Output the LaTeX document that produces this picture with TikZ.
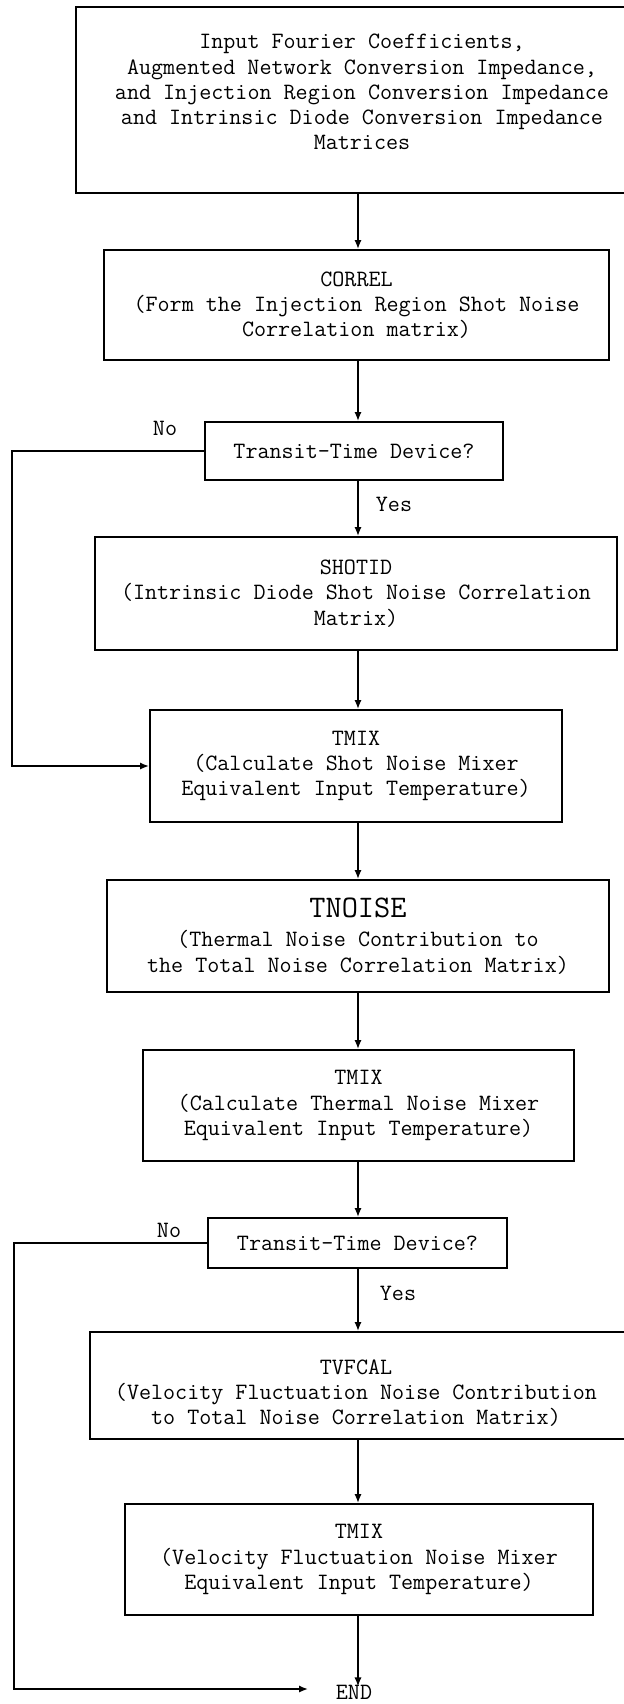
\documentclass[tikz,border=0pt]{standalone}
\usetikzlibrary{arrows.meta}
\begin{document}
\begin{tikzpicture}[x=0.5pt,y=-0.5pt,
  every node/.style={font=\ttfamily\fontsize{11.7}{12.6}\selectfont},
  box/.style 2 args={draw, line width=1pt, minimum width=#1*0.5pt,
    minimum height=#2*0.5pt, inner sep=0pt, align=center},
  txt/.style={align=center, inner sep=0pt},
  arr/.style={line width=0.8pt, -{Latex[length=4.5pt,width=3.6pt]}},
  wire/.style={line width=0.8pt}]
\useasboundingbox (0,0) rectangle (624,1704);

% spine of the main flow
\coordinate (sp) at (358,0);

% process boxes
\node[box={564}{186}] (inbox) at (358,100) {};
\node[txt] (intext) at (362,92) {Input Fourier Coefficients,\\Augmented Network Conversion Impedance,\\and Injection Region Conversion Impedance\\and Intrinsic Diode Conversion Impedance\\Matrices};
\node[box={505}{110}] (correl) at (356.5,305) {CORREL\\(Form the Injection Region Shot Noise\\Correlation matrix)};
\node[box={298}{58}] (dec1) at (354,451) {Transit-Time Device?};
\node[box={522}{113}] (shotid) at (356,593.5) {SHOTID\\(Intrinsic Diode Shot Noise Correlation\\Matrix)};
\node[box={412}{112}] (tmixa) at (356,766) {TMIX\\(Calculate Shot Noise Mixer\\Equivalent Input Temperature)};
\node[box={502}{112}] (tnoise) at (358,936) {{\fontsize{15.7}{17}\selectfont TNOISE}\\[2pt](Thermal Noise Contribution to\\the Total Noise Correlation Matrix)};
\node[box={431}{111}] (tmixb) at (358.5,1105.5) {TMIX\\(Calculate Thermal Noise Mixer\\Equivalent Input Temperature)};
\node[box={299}{50}] (dec2) at (357.5,1243) {Transit-Time Device?};
\node[box={550}{107}] (tvfcal) at (365,1385.5) {};
\node[txt] (tvtext) at (356,1393) {TVFCAL\\(Velocity Fluctuation Noise Contribution\\to Total Noise Correlation Matrix)};
\node[box={468}{111}] (tmixc) at (359,1559.5) {TMIX\\(Velocity Fluctuation Noise Mixer\\Equivalent Input Temperature)};
\node[txt] (endn) at (354,1692) {END};

% branch labels
\node[txt] (no1) at (165,428) {No};
\node[txt] (yes1) at (394,504) {Yes};
\node[txt] (no2) at (169,1230) {No};
\node[txt] (yes2) at (398,1293) {Yes};

% main flow
\draw[arr] (inbox.south -| sp) -- (correl.north -| sp);
\draw[arr] (correl.south -| sp) -- (dec1.north -| sp);
\draw[arr] (dec1.south -| sp) -- (shotid.north -| sp);
\draw[arr] (shotid.south -| sp) -- (tmixa.north -| sp);
\draw[arr] (tmixa.south -| sp) -- (tnoise.north -| sp);
\draw[arr] (tnoise.south -| sp) -- (tmixb.north -| sp);
\draw[arr] (tmixb.south -| sp) -- (dec2.north -| sp);
\draw[arr] (dec2.south -| sp) -- (tvfcal.north -| sp);
\draw[arr] (tvfcal.south -| sp) -- (tmixc.north -| sp);
\draw[arr] (tmixc.south -| sp) -- ([yshift=-1pt]endn.north -| sp);

% bypass branches
\coordinate (railA) at (12,766);
\draw[arr] (dec1.west) -| (railA) -- (tmixa.west);
\coordinate (railB) at (14,1689);
\coordinate (endtip) at (308,1689);
\draw[arr] (dec2.west) -| (railB) -- (endtip);
\end{tikzpicture}
\end{document}
